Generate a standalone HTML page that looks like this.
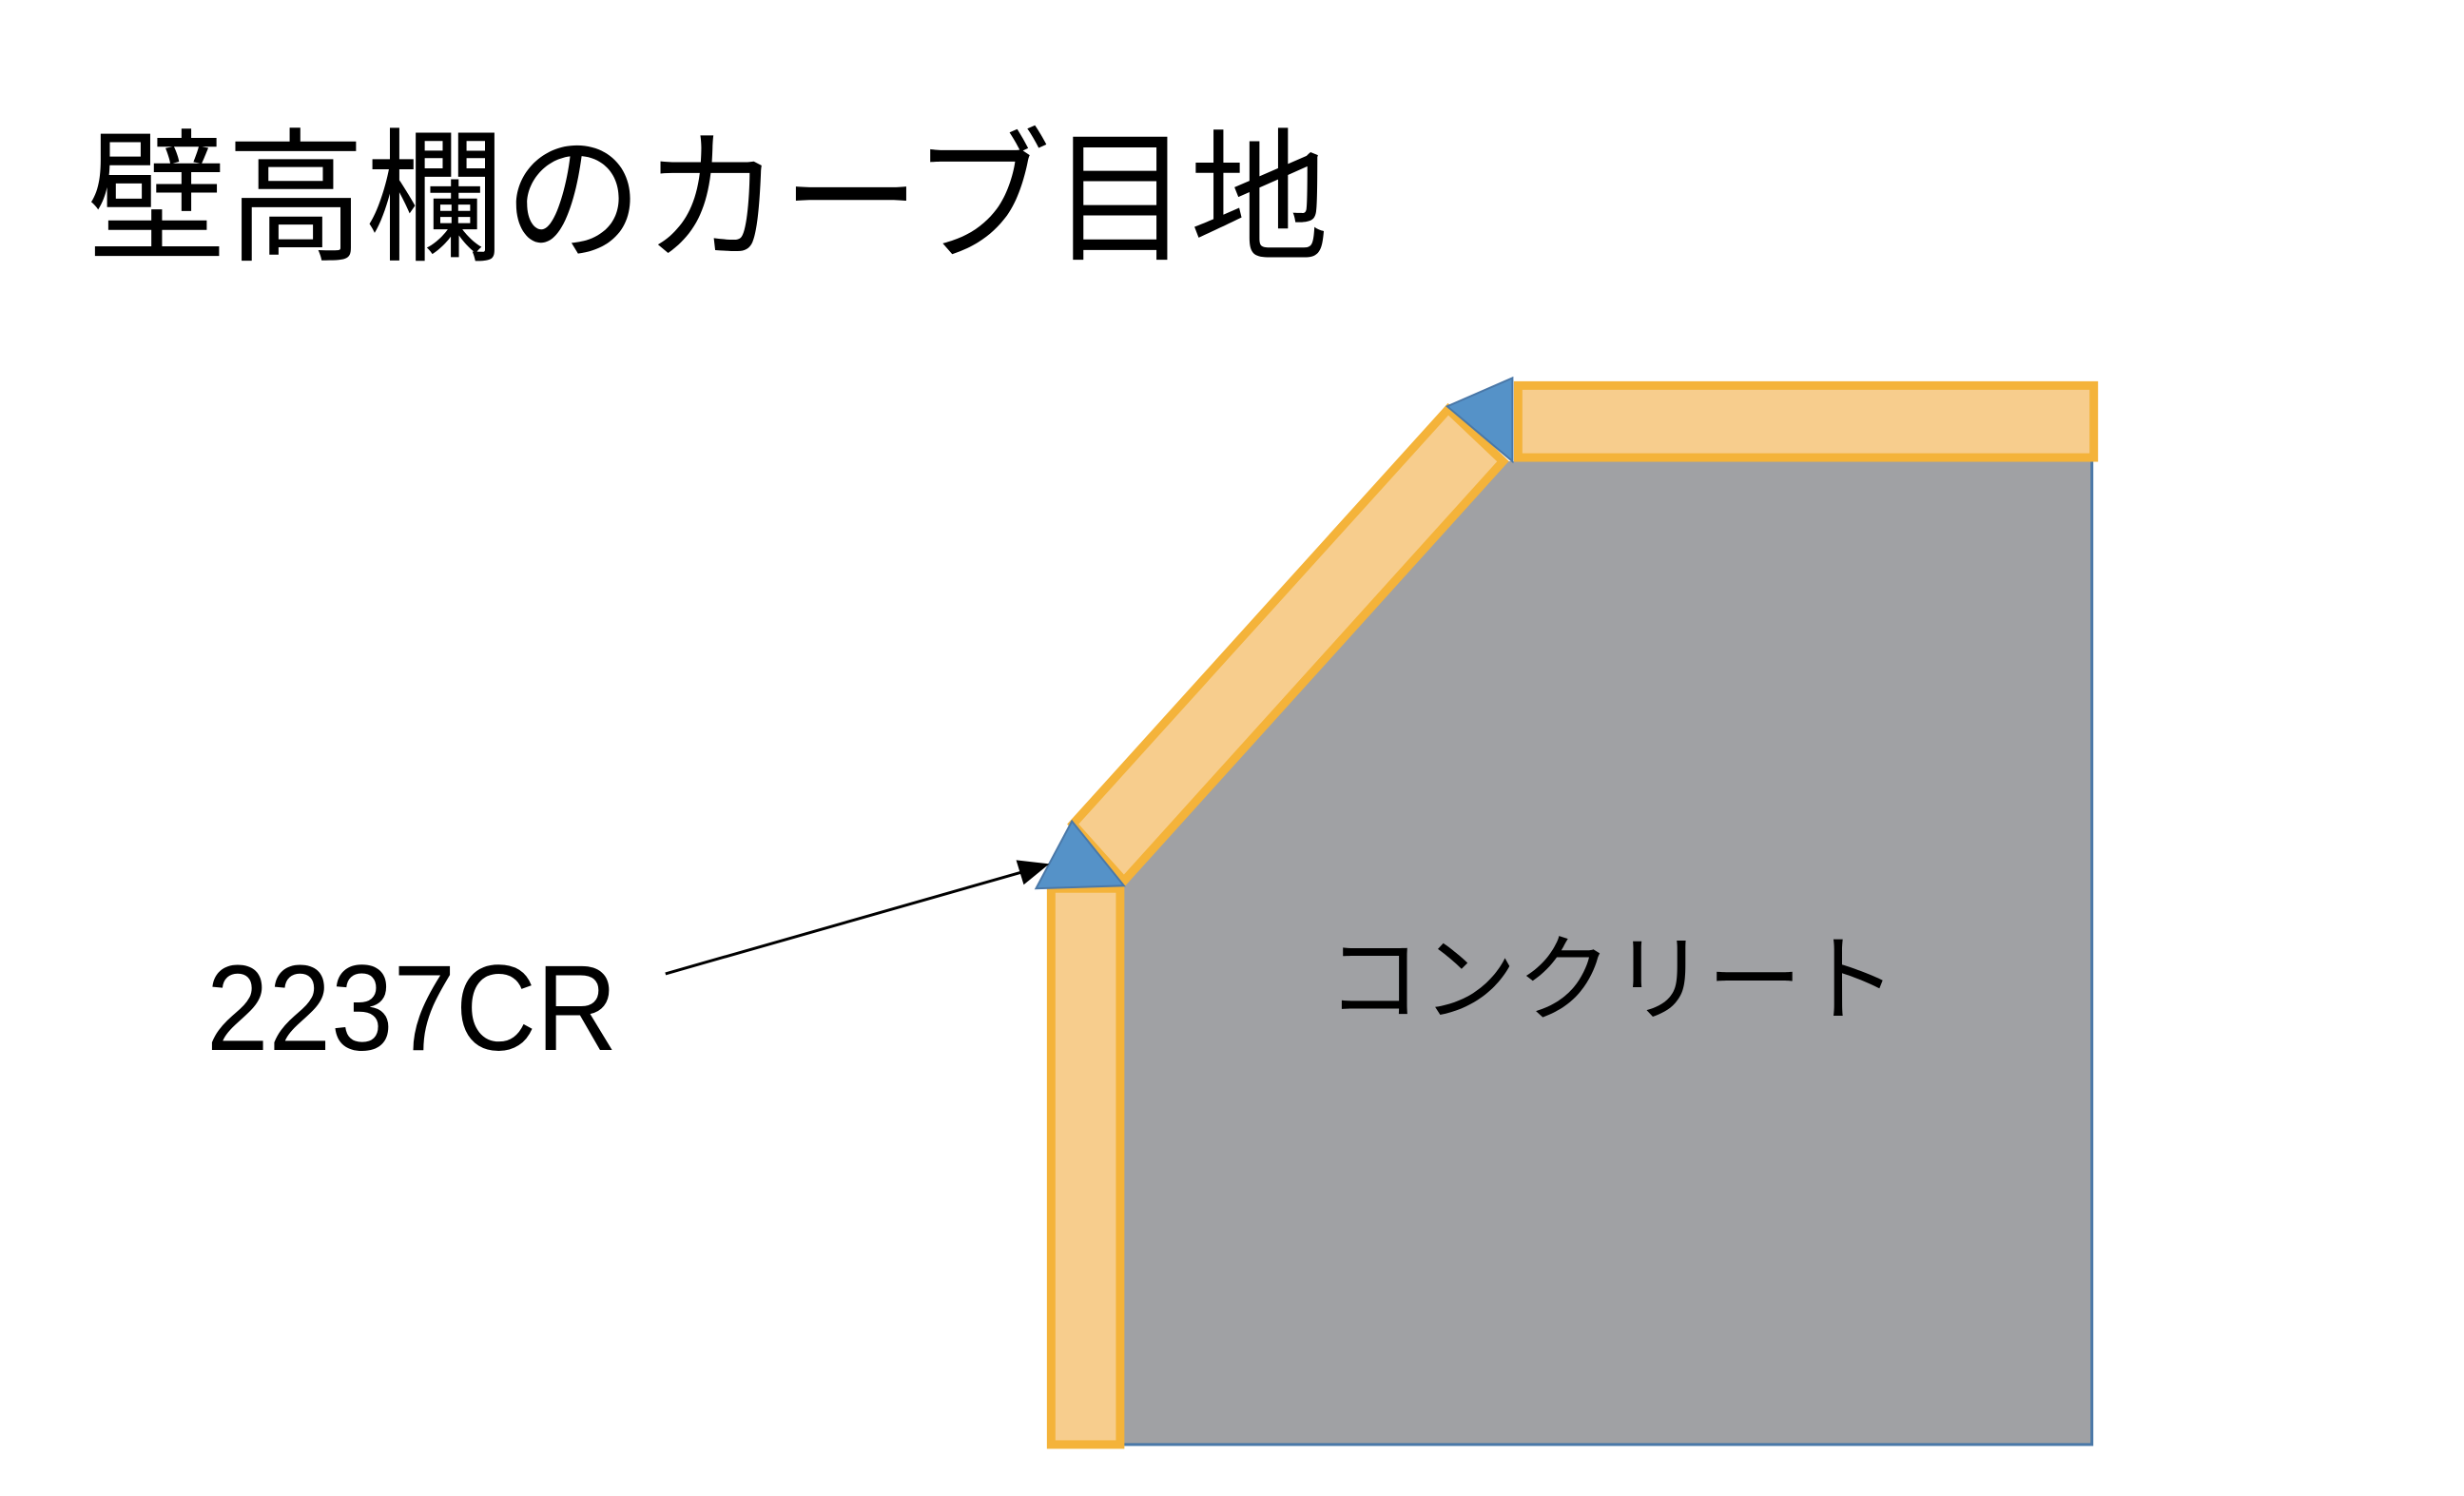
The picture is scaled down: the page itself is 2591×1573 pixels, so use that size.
<!DOCTYPE html>
<html><head><meta charset="utf-8"><style>
html,body{margin:0;padding:0;background:#fff;}
body{width:2591px;height:1573px;position:relative;overflow:hidden;}
.t{position:absolute;white-space:nowrap;line-height:1;color:#000;}
</style></head><body>
<svg width="2591" height="1573" style="position:absolute;left:0;top:0">
 <g transform="scale(0.994,0.996)">
  <polygon points="1594,487 2213,487 2213,1525 1189,1525 1189,930" fill="#a0a1a4"/>
  <polyline points="2213,487 2213,1525 1189,1525" fill="none" stroke="#4a78a8" stroke-width="3"/>
  <rect x="1606" y="407" width="609" height="76" fill="#f7cd8d" stroke="#f4b33a" stroke-width="9"/>
  <rect x="1112" y="938" width="73" height="587" fill="#f7cd8d" stroke="#f4b33a" stroke-width="9"/>
  <polygon points="1532,432 1590,487 1189,930 1135,870" fill="#f7cd8d" stroke="#f4b33a" stroke-width="9" stroke-linejoin="miter"/>
  <polygon points="1134,867 1096,938 1189,935" fill="#5592c8" stroke="#4a78a8" stroke-width="2"/>
  <polygon points="1531,429 1600,399 1600,487" fill="#5592c8" stroke="#4a78a8" stroke-width="2"/>
  <line x1="704" y1="1028" x2="1080" y2="921" stroke="#000" stroke-width="3"/>
  <polygon points="1110,912 1075,908 1083,934" fill="#000"/>
 </g>
</svg>
<div class="t" style="left:92px;top:134px;font-size:146px;font-family:'Liberation Sans','Noto Sans CJK JP',sans-serif;transform:scaleY(1.04);transform-origin:left top;">壁高欄のカーブ目地</div>
<div class="t" style="left:217px;top:997px;font-size:128px;font-family:'Liberation Sans',sans-serif;transform:scaleX(0.92);transform-origin:left top;">2237CR</div>
<div class="t" style="left:1395px;top:981px;font-size:100px;font-family:'Liberation Sans','Noto Sans CJK JP',sans-serif;">コンクリート</div>
</body></html>
